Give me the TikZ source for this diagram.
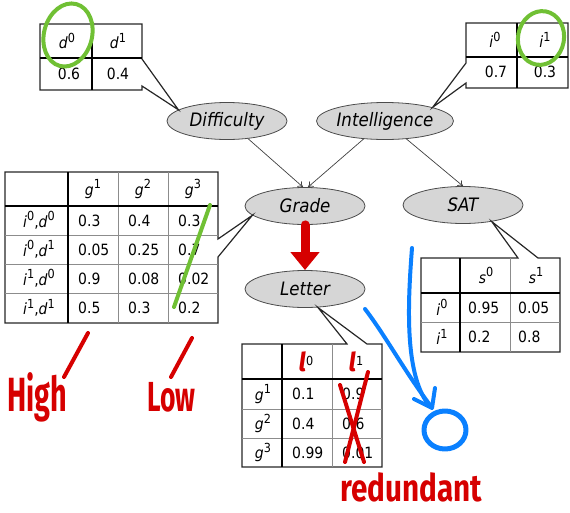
\documentclass[tikz,border=0pt]{standalone}
\usepackage{fontspec}
\setmainfont{DejaVu Sans Condensed}
\newfontfamily\handfont{Fira Sans}
\usetikzlibrary{arrows.meta,shapes.geometric}

\definecolor{varfill}{RGB}{214,214,214}
\definecolor{inkred}{RGB}{214,0,0}
\definecolor{inkgreen}{RGB}{112,192,52}
\definecolor{inkblue}{RGB}{10,128,255}

% value index raised next to a state, e.g. g^1
\newcommand{\svup}[1]{\raisebox{0.42em}{\fontsize{12.5}{12.5}\selectfont #1}}
\newcommand{\sv}[2]{\textit{#1}\svup{#2}}

\begin{document}
\begin{tikzpicture}
    [x=1pt, y=-1pt,
    var/.style={ellipse, draw=black!70, line width=0.8pt, fill=varfill,
        minimum width=120pt, minimum height=37pt, inner sep=0pt,
        font=\fontsize{18.5}{20}\selectfont\itshape},
    dep/.style={draw=black!75, line width=0.7pt, -{To[length=5pt,width=7pt]}},
    cptframe/.style={draw=black!85, line width=1.2pt},
    cptrule/.style={draw=black, line width=1.7pt},
    cptgrid/.style={draw=black!45, line width=0.6pt},
    cptcell/.style={font=\fontsize{15.5}{17}\selectfont, inner sep=0pt},
    ink/.style={line width=4pt, line cap=round, line join=round},
    hand/.style={text=inkred, inner sep=0pt, transform shape}]

    \useasboundingbox (0,0) rectangle (570,512);

    % the network
    \node[var] (diff) at (227,121) {Difficulty};
    \node[var] (intel) at (385,121) {Intelligence};
    \node[var] (grade) at (305,206) {Grade};
    \node[var] (sat) at (463,205) {SAT};
    \node[var] (letter) at (305,289) {Letter};

    \draw[dep] (diff.-40) -- ([xshift=-2pt]grade.north);
    \draw[dep] (intel.-140) -- ([xshift=3pt]grade.north);
    \draw[dep] (intel.-40) -- (sat.north);

    % P(D)
    \draw[cptframe] (142,86) -- (142,90) -- (40,90) -- (40,24) -- (142,24)
        -- (142,59) -- (diff.167) -- cycle;
    \draw[cptrule] (40,58) -- (142,58) (92,24) -- (92,90);
    \node[cptcell] (d-0) at (67,41) {\sv{d}{0}};
    \node[cptcell] (d-1) at (118,41) {\sv{d}{1}};
    \node[cptcell] (dp-0) at (69,74) {0.6};
    \node[cptcell] (dp-1) at (118,74) {0.4};

    % P(I)
    \draw[cptframe] (466,63) -- (466,23) -- (568,23) -- (568,88) -- (466,88)
        -- (466,83) -- (intel.16) -- cycle;
    \draw[cptrule] (466,57) -- (568,57) (517,23) -- (517,88);
    \node[cptcell] (i-0) at (495,40) {\sv{i}{0}};
    \node[cptcell] (i-1) at (545,40) {\sv{i}{1}};
    \node[cptcell] (ip-0) at (496,72) {0.7};
    \node[cptcell] (ip-1) at (545,72) {0.3};

    % P(G | I, D)
    \draw[cptframe] (218,257) -- (218,323) -- (5,323) -- (5,172) -- (218,172)
        -- (218,239) -- (grade.190) -- cycle;
    \draw[cptgrid] (5,235) -- (218,235) (5,264) -- (218,264) (5,293) -- (218,293)
        (118,172) -- (118,323) (168,172) -- (168,323);
    \draw[cptrule] (5,206) -- (218,206) (68,172) -- (68,323);
    \foreach \x [count=\c] in {93,143,193}
        \node[cptcell] (g-\c) at (\x,189) {\sv{g}{\c}};
    \foreach \y/\lbl/\a/\b/\e [count=\r] in
        {220.5/{\sv{i}{0},\sv{d}{0}}/0.3/0.4/0.3,
         249.5/{\sv{i}{0},\sv{d}{1}}/0.05/0.25/0.7,
         278.5/{\sv{i}{1},\sv{d}{0}}/0.9/0.08/0.02,
         308/{\sv{i}{1},\sv{d}{1}}/0.5/0.3/0.2}
    {
        \node[cptcell] (gr-\r) at (39,\y) {\lbl};
        \node[cptcell, anchor=west] (gp-\r-1) at (78,\y) {\a};
        \node[cptcell, anchor=west] (gp-\r-2) at (128,\y) {\b};
        \node[cptcell, anchor=west] (gp-\r-3) at (178,\y) {\e};
    }

    % P(S | I)
    \draw[cptframe] (538,258) -- (560,258) -- (560,352) -- (421,352) -- (421,258)
        -- (518,258) -- (sat.330) -- cycle;
    \draw[cptgrid] (421,322) -- (560,322) (510,258) -- (510,352);
    \draw[cptrule] (421,293) -- (560,293) (460,258) -- (460,352);
    \node[cptcell] (s-0) at (486,275.5) {\sv{s}{0}};
    \node[cptcell] (s-1) at (536,275.5) {\sv{s}{1}};
    \foreach \y/\a/\b [count=\r from 0] in {307.5/0.95/0.05, 337/0.2/0.8}
    {
        \node[cptcell] (sr-\r) at (442,\y) {\sv{i}{\r}};
        \node[cptcell, anchor=west] (sp-\r-0) at (468,\y) {\a};
        \node[cptcell, anchor=west] (sp-\r-1) at (518,\y) {\b};
    }

    % P(L | G)
    \draw[cptframe] (367,344) -- (382,344) -- (382,467) -- (242,467) -- (242,344)
        -- (347,344) -- (letter.305) -- cycle;
    \draw[cptgrid] (242,409) -- (382,409) (242,438) -- (382,438) (332,344) -- (332,467);
    \draw[cptrule] (242,379) -- (382,379) (282,344) -- (282,467);
    \foreach \x [count=\c from 0] in {306,356}
        \node[cptcell] (l-\c) at (\x,362)
            {\textcolor{inkred}{\handfont\bfseries\itshape\fontsize{26}{26}\selectfont l}\svup{\c}};
    \foreach \y/\a/\b [count=\r] in {394/0.1/0.9, 423.5/0.4/0.6, 452.5/0.99/0.01}
    {
        \node[cptcell] (lr-\r) at (263,\y) {\sv{g}{\r}};
        \node[cptcell, anchor=west] (lp-\r-0) at (292,\y) {\a};
        \node[cptcell, anchor=west] (lp-\r-1) at (342,\y) {\b};
    }

    % pen marks on top
    \draw[inkred, line width=9pt, line cap=round,
        -{Triangle[length=18pt,width=28pt]}] (grade.south) -- (letter.north);

    \draw[ink, inkgreen, rotate around={-15:(68,35)}] (68,35) ellipse [x radius=24, y radius=32];
    \draw[ink, inkgreen, rotate around={-10:(541,38)}] (541,38) ellipse [x radius=23, y radius=27];
    \draw[ink, inkgreen] (210,205) -- (174,307);

    \draw[ink, inkred] (88,333) -- (64,377);
    \draw[ink, inkred] (192,338) -- (171,377);
    \draw[ink, inkred] (340,385) -- (364,462);
    \draw[ink, inkred] (368,372) -- (345,462);
    \node[hand, xscale=0.6, anchor=base west,
        font=\handfont\bfseries\fontsize{48}{48}\selectfont] (high) at (7,411) {High};
    \node[hand, xscale=0.63, anchor=base west,
        font=\handfont\bfseries\fontsize{42}{42}\selectfont] (low) at (147,411) {Low};
    \node[hand, xscale=0.78, anchor=base west,
        font=\handfont\bfseries\fontsize{38}{38}\selectfont] (redund) at (340,501) {redundant};

    \draw[ink, inkblue] (365,309) .. controls (385,335) and (405,372) .. (430,405);
    \draw[ink, inkblue] (412,248) .. controls (408,300) and (404,372) .. (428,404);
    \draw[ink, inkblue] (414,399) -- (432,408) -- (435,388);
    \draw[ink, inkblue, line width=5pt] (445,430) ellipse [x radius=21, y radius=19];
\end{tikzpicture}
\end{document}
